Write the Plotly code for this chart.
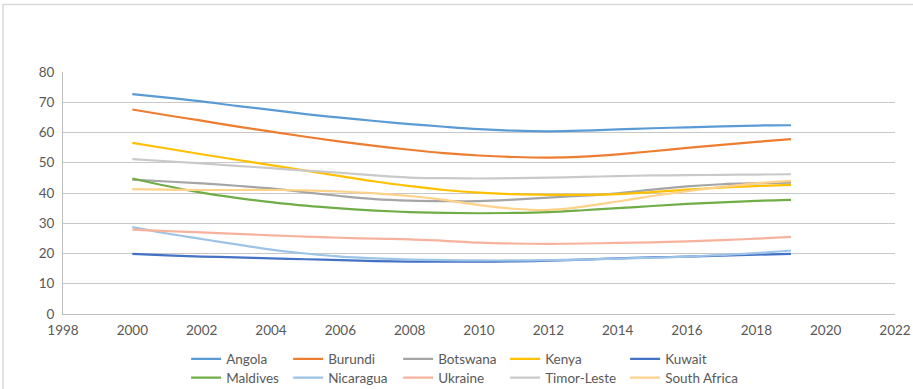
import plotly.graph_objects as go

years = list(range(2000, 2020))

angola = [72.7, 71.5, 70.3, 68.8, 67.5, 66.1, 64.9, 63.8, 62.8, 61.9,
          61.1, 60.6, 60.4, 60.6, 61.0, 61.4, 61.7, 62.0, 62.3, 62.4]
burundi = [67.6, 65.7, 63.9, 62.0, 60.3, 58.6, 57.0, 55.6, 54.3, 53.2,
           52.4, 51.9, 51.7, 52.0, 52.8, 53.8, 54.9, 55.9, 56.9, 57.8]
botswana = [44.4, 43.8, 43.2, 42.4, 41.5, 40.2, 39.0, 38.0, 37.5, 37.3,
            37.3, 37.8, 38.5, 39.1, 39.9, 41.1, 42.2, 42.9, 43.2, 43.4]
kenya = [56.6, 54.7, 52.8, 51.0, 49.2, 47.4, 45.6, 43.8, 42.3, 41.0,
         40.1, 39.6, 39.4, 39.4, 39.6, 40.3, 41.1, 41.8, 42.3, 42.7]
kuwait = [19.9, 19.4, 19.0, 18.7, 18.4, 18.1, 17.8, 17.5, 17.3, 17.3,
          17.3, 17.4, 17.6, 18.0, 18.4, 18.7, 19.0, 19.3, 19.6, 19.9]
maldives = [44.8, 42.3, 40.1, 38.4, 37.0, 35.8, 34.9, 34.2, 33.7, 33.4,
            33.3, 33.4, 33.7, 34.3, 35.0, 35.7, 36.4, 36.9, 37.4, 37.7]
nicaragua = [28.7, 26.6, 24.8, 23.0, 21.3, 20.0, 19.0, 18.4, 18.0, 17.8,
             17.7, 17.7, 17.8, 18.0, 18.3, 18.6, 19.0, 19.5, 20.1, 21.0]
ukraine = [27.9, 27.4, 27.0, 26.5, 26.0, 25.6, 25.2, 24.9, 24.7, 24.2,
           23.6, 23.3, 23.2, 23.3, 23.5, 23.7, 24.0, 24.4, 24.9, 25.5]
timor_leste = [51.2, 50.5, 49.8, 49.0, 48.2, 47.4, 46.7, 45.8, 45.1, 44.9,
               44.8, 44.9, 45.1, 45.3, 45.6, 45.8, 45.9, 46.0, 46.1, 46.2]
south_africa = [41.3, 41.1, 41.0, 41.0, 41.0, 40.9, 40.5, 39.9, 39.0, 37.7,
                36.0, 34.8, 34.4, 35.5, 37.2, 39.0, 40.6, 42.0, 43.2, 44.0]

series = [
    ("Angola", angola, "#5B9BD5", "legend", 57),
    ("Burundi", burundi, "#ED7D31", "legend", 65),
    ("Botswana", botswana, "#A5A5A5", "legend", 62),
    ("Kenya", kenya, "#FFC000", "legend", 75),
    ("Kuwait", kuwait, "#4472C4", "legend", 80),
    ("Maldives", maldives, "#70AD47", "legend2", 57),
    ("Nicaragua", nicaragua, "#9DC3E6", "legend2", 65),
    ("Ukraine", ukraine, "#F7B29D", "legend2", 62),
    ("Timor-Leste", timor_leste, "#C9C9C9", "legend2", 75),
    ("South Africa", south_africa, "#FFD28A", "legend2", 80),
]

fig = go.Figure()
for name, vals, color, leg, lw in series:
    fig.add_trace(go.Scatter(
        x=years, y=vals, name=name, mode="lines",
        line=dict(color=color, width=2.2, shape="spline"),
        legend=leg, legendwidth=lw,
    ))

font = dict(family="Lato, 'Open Sans', sans-serif", size=13.5, color="#595959")
legend_common = dict(orientation="h", xanchor="left", yanchor="top",
                     font=font, itemwidth=30, bgcolor="rgba(0,0,0,0)",
                     tracegroupgap=0)

fig.update_layout(
    width=913, height=389,
    margin=dict(l=63, r=18, t=72, b=75, autoexpand=False),
    paper_bgcolor="white", plot_bgcolor="white",
    font=font,
    legend=dict(x=0.148, y=-0.122, **legend_common),
    legend2=dict(x=0.148, y=-0.2, **legend_common),
    xaxis=dict(range=[1998, 2022], dtick=2, tick0=1998,
               showgrid=False, zeroline=False,
               showline=True, linecolor="#BFBFBF", linewidth=1,
               ticks="", ticklabelstandoff=4, tickfont=font),
    yaxis=dict(range=[0, 80], dtick=10, tick0=0,
               showgrid=True, gridcolor="#C8C8C8", gridwidth=1,
               zeroline=False, showline=True, linecolor="#BFBFBF",
               linewidth=1, ticks="", ticklabelstandoff=5, tickfont=font),
    shapes=[dict(type="rect", xref="paper", yref="paper",
                 x0=-0.0721, x1=1.3, y0=-0.6, y1=1.279,
                 line=dict(color="#D9D9D9", width=1.5),
                 fillcolor="rgba(0,0,0,0)", layer="below")],
    showlegend=True,
)

fig.write_html("out.html")
